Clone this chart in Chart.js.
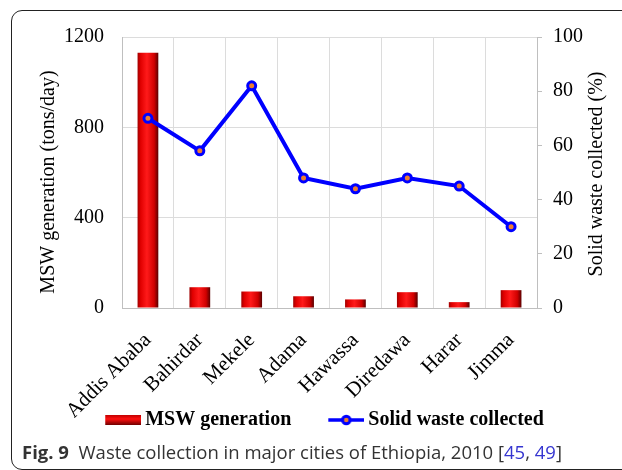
<!DOCTYPE html>
<html><head><meta charset="utf-8">
<script src="https://cdn.jsdelivr.net/npm/chart.js@4/dist/chart.umd.min.js"></script>
<style>
html,body{margin:0;padding:0;background:#fff;width:622px;height:470px;overflow:hidden;}
#frame{position:absolute;left:11px;top:10px;width:640px;height:460px;border:1.3px solid #222;border-radius:11px;box-sizing:border-box;}
#wrap{position:absolute;left:0;top:0;width:622px;height:458px;}
#cap{position:absolute;left:22px;top:439px;font-family:"Open Sans";font-size:18.5px;color:#333;white-space:nowrap;line-height:26px;}
#cap span{color:#3535d0;}
</style></head>
<body>
<div id="frame"></div>
<div id="wrap"><canvas id="c" width="622" height="458"></canvas></div>
<div id="cap"><b>Fig. 9</b>&nbsp; Waste collection in major cities of Ethiopia, 2010 [<span>45</span>, <span>49</span>]</div>
<script>
const cities = ['Addis Ababa','Bahirdar','Mekele','Adama','Hawassa','Diredawa','Harar','Jimma'];
const mswGeneration = [1130, 92, 73, 52, 38, 70, 26, 79];
const wasteCollected = [70, 58, 82, 48, 44, 48, 45, 30];
const leftTicks = [0, 400, 800, 1200];
const rightTicks = [0, 20, 40, 60, 80, 100];

const SERIF = '"Liberation Serif", "Times New Roman", serif';

function makeIcon(draw){
  const c = document.createElement('canvas'); c.width = 69; c.height = 12;
  const g = c.getContext('2d');
  g.translate(33, 0);
  draw(g);
  return c;
}
const barIcon = makeIcon(g => {
  const gr = g.createLinearGradient(0,1,0,11);
  gr.addColorStop(0,'#c00000'); gr.addColorStop(0.4,'#ff1010'); gr.addColorStop(1,'#700000');
  g.fillStyle = gr; g.fillRect(0,1,36,10);
});
const lineIcon = makeIcon(g => {
  g.strokeStyle = '#0000ff'; g.lineWidth = 3.5;
  g.beginPath(); g.moveTo(0,6); g.lineTo(36,6); g.stroke();
  g.beginPath(); g.arc(18,6,3.8,0,Math.PI*2); g.fillStyle='#ED7D31'; g.fill();
  g.lineWidth = 3; g.strokeStyle='#0000ff'; g.stroke();
});

function barGradient(ctx){
  const chart = ctx.chart;
  const area = chart.chartArea;
  if (!area || ctx.type !== 'data') return '#e00000';
  const xs = chart.scales.x;
  const cx = xs.getPixelForValue(ctx.dataIndex);
  const w = (area.right - area.left) / cities.length * 0.4;
  const g = chart.ctx.createLinearGradient(cx - w/2, 0, cx + w/2, 0);
  g.addColorStop(0, '#a00000');
  g.addColorStop(0.15, '#e00000');
  g.addColorStop(0.45, '#ff1a1a');
  g.addColorStop(0.8, '#d00000');
  g.addColorStop(1, '#5a0000');
  return g;
}

const axisTitles = {
  id: 'axisTitles',
  afterLayout(chart){
    chart.legend.top -= 18;
    chart.legend.bottom -= 18;
  },
  afterDraw(chart){
    const c = chart.ctx;
    const draw = (txt, x, y) => {
      c.save();
      c.translate(x, y);
      c.rotate(-Math.PI/2);
      c.font = '20px ' + SERIF;
      c.fillStyle = '#000';
      c.textAlign = 'center'; c.textBaseline = 'middle';
      c.fillText(txt, 0, 0);
      c.restore();
    };
    draw('MSW generation (tons/day)', 49, 182);
    draw('Solid waste collected (%)', 597, 174);
  }
};

new Chart(document.getElementById('c'), {
  data: {
    labels: cities,
    datasets: [
      { type: 'bar', label: 'MSW generation', data: mswGeneration, yAxisID: 'y',
        backgroundColor: barGradient, borderWidth: 0, barPercentage: 0.4, categoryPercentage: 1.0, order: 2 },
      { type: 'line', label: 'Solid waste collected', data: wasteCollected, yAxisID: 'y1',
        borderColor: '#0000ff', borderWidth: 4, tension: 0,
        pointRadius: 4, pointBorderWidth: 3, pointBackgroundColor: '#ED7D31', pointBorderColor: '#0000ff', order: 1 }
    ]
  },
  options: {
    responsive: false,
    animation: false,
    devicePixelRatio: 1,
    layout: { padding: { top: 37, left: 0, right: 0, bottom: 0 } },
    plugins: {
      tooltip: { enabled: false },
      legend: {
        position: 'bottom',
        labels: {
          usePointStyle: true, pointStyleWidth: 57, padding: 10,
          font: { family: SERIF, size: 20, weight: 'bold' }, color: '#000',
          generateLabels: () => [
            { text: 'MSW generation', pointStyle: barIcon, datasetIndex: 0, hidden: false, lineWidth: 0 },
            { text: 'Solid waste collected', pointStyle: lineIcon, datasetIndex: 1, hidden: false, lineWidth: 0 }
          ]
        }
      }
    },
    scales: {
      x: {
        offset: true,
        grid: { color: '#dcdcdc', offset: true, drawTicks: false },
        border: { color: '#bfbfbf' },
        ticks: { font: { family: SERIF, size: 21 }, color: '#000', maxRotation: 45, minRotation: 45, padding: 20 },
        afterFit: s => { s.height = 110; }
      },
      y: {
        position: 'left', min: 0, max: 1200,
        afterBuildTicks: s => { s.ticks = leftTicks.map(v => ({ value: v })); },
        grid: { color: '#dcdcdc', drawTicks: false },
        border: { color: '#bfbfbf' },
        ticks: { font: { family: SERIF, size: 20 }, color: '#000', padding: 18, callback: v => String(v) },
        afterFit: s => { s.width = 122; }
      },
      y1: {
        position: 'right', min: 0, max: 100,
        afterBuildTicks: s => { s.ticks = rightTicks.map(v => ({ value: v })); },
        grid: { drawOnChartArea: false, drawTicks: true, tickLength: 5, color: '#bfbfbf' },
        border: { color: '#bfbfbf' },
        ticks: { font: { family: SERIF, size: 20 }, color: '#000', padding: 11, callback: v => String(v) },
        afterFit: s => { s.width = 85; }
      }
    }
  },
  plugins: [axisTitles]
});
</script>
</body></html>
